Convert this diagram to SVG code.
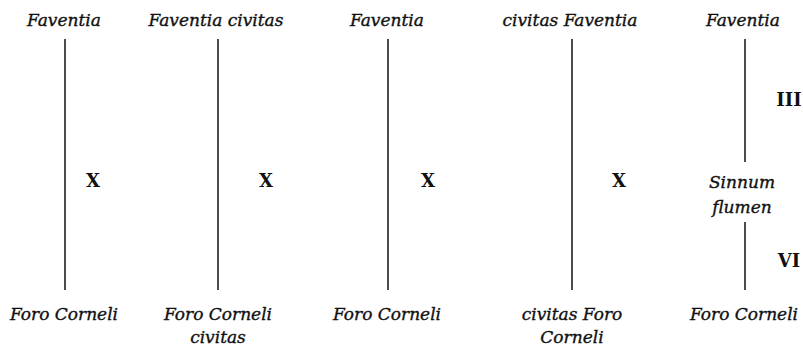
<svg xmlns="http://www.w3.org/2000/svg" width="803" height="349" viewBox="0 0 803 349">
<style>
.t{font-family:"DejaVu Serif","Liberation Serif",serif;font-style:italic;font-size:17px;fill:#111;stroke:#111;stroke-width:0.35;text-anchor:middle}
.b{font-family:"DejaVu Serif","Liberation Serif",serif;font-weight:bold;font-size:18px;fill:#111;text-anchor:middle}
.l{stroke:#111;stroke-width:1.5;fill:none}
</style>
<rect width="803" height="349" fill="#fff"/>
<g id="connectors">
<line class="l" x1="65" y1="39" x2="65" y2="290"/>
<line class="l" x1="218" y1="39" x2="218" y2="290"/>
<line class="l" x1="388" y1="39" x2="388" y2="290"/>
<line class="l" x1="572" y1="39" x2="572" y2="290"/>
<line class="l" x1="745" y1="39" x2="745" y2="162"/>
<line class="l" x1="745" y1="222" x2="745" y2="290"/>
</g>
<g id="col1">
<text class="t" x="64" y="26">Faventia</text>
<text class="b" x="93" y="187">X</text>
<text class="t" x="64" y="320">Foro Corneli</text>
</g>
<g id="col2">
<text class="t" x="216" y="26">Faventia civitas</text>
<text class="b" x="266" y="187">X</text>
<text class="t" x="218" y="320">Foro Corneli</text>
<text class="t" x="218" y="343">civitas</text>
</g>
<g id="col3">
<text class="t" x="387" y="26">Faventia</text>
<text class="b" x="428" y="187">X</text>
<text class="t" x="387" y="320">Foro Corneli</text>
</g>
<g id="col4">
<text class="t" x="570" y="26">civitas Faventia</text>
<text class="b" x="619" y="187">X</text>
<text class="t" x="572" y="320">civitas Foro</text>
<text class="t" x="572" y="343">Corneli</text>
</g>
<g id="col5">
<text class="t" x="743" y="26">Faventia</text>
<text class="b" x="789" y="106">III</text>
<text class="t" x="742" y="188">Sinnum</text>
<text class="t" x="742" y="213">flumen</text>
<text class="b" x="789" y="267">VI</text>
<text class="t" x="744" y="320">Foro Corneli</text>
</g>
</svg>
